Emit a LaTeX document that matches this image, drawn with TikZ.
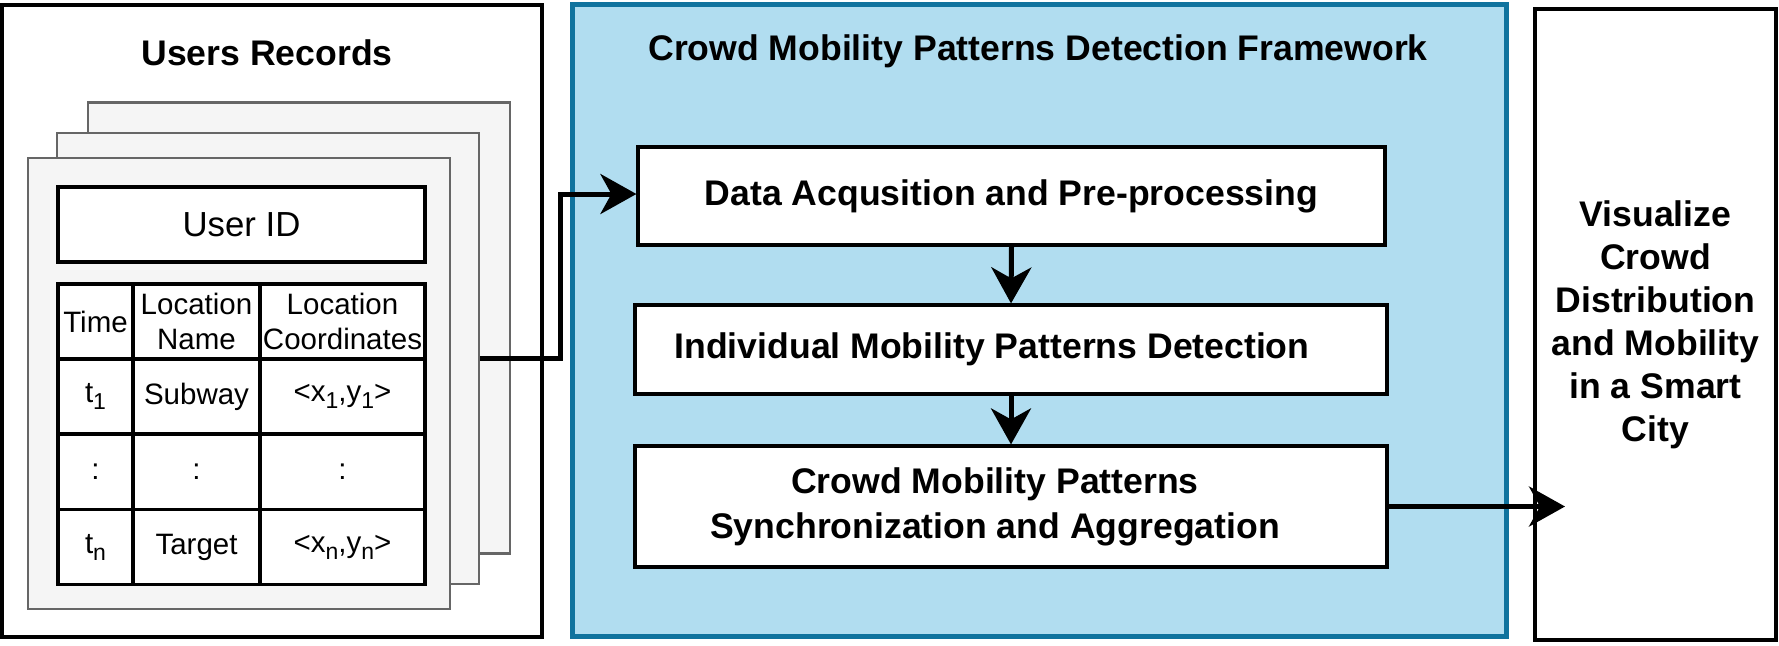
\documentclass[tikz,border=0pt]{standalone}
\usepackage{fontspec}
\setmainfont{Liberation Sans}
\usetikzlibrary{arrows.meta}
\definecolor{bluefill}{HTML}{B1DDF0}
\definecolor{bluedraw}{HTML}{10739E}
\definecolor{sheetfill}{HTML}{F5F5F5}
\definecolor{sheetdraw}{HTML}{666666}
\newcommand\lowsub[1]{\raisebox{-3.5pt}{\fontsize{11.5}{12}\selectfont #1}}
\begin{document}
\begin{tikzpicture}[x=0.5pt,y=-0.5pt,
  panel/.style={draw=black, line width=1.6pt, fill=white, inner sep=0pt},
  sheet/.style={draw=sheetdraw, fill=sheetfill, line width=1.2pt, minimum width=211pt, minimum height=225.5pt, inner sep=0pt},
  cell/.style={draw=black, line width=1.6pt, fill=white, inner sep=0pt, align=center, font=\fontsize{14.75}{17.5}\selectfont},
  stage/.style={draw=black, line width=1.6pt, fill=white, inner sep=0pt, align=center, font=\fontsize{17.8}{22.5}\selectfont\bfseries},
  heading/.style={inner sep=0pt, font=\fontsize{17.8}{22}\selectfont\bfseries},
  arr/.style={line width=2.5pt, -{Stealth[length=18pt,width=20pt,inset=5.5pt]}}]
\useasboundingbox (0,0) rectangle (1779,645);

% left panel
\node[panel, minimum width=270pt, minimum height=316pt] (records) at (272,321) {};
\node[heading] (recordstitle) at (267,53) {Users Records};
\node[sheet] (sheet3) at (299,328) {};
\node[sheet] (sheet2) at (268,358.5) {};
\node[sheet] (sheet1) at (239,383.5) {};
\node[cell, minimum width=183.5pt, minimum height=37.5pt, font=\fontsize{17.4}{20}\selectfont] (userid) at (241.5,224.5) {User ID};

% table
\node[cell, minimum width=37.5pt, minimum height=37.5pt] (c11) at (95.5,321.5) {Time};
\node[cell, minimum width=63.5pt, minimum height=37.5pt] (c12) at (196.5,321.5) {Location\\Name};
\node[cell, minimum width=82.5pt, minimum height=37.5pt] (c13) at (342.5,321.5) {Location\\Coordinates};
\node[cell, minimum width=37.5pt, minimum height=37.5pt] (c21) at (95.5,396.5) {t\lowsub{1}};
\node[cell, minimum width=63.5pt, minimum height=37.5pt] (c22) at (196.5,396.5) {Subway};
\node[cell, minimum width=82.5pt, minimum height=37.5pt] (c23) at (342.5,396.5) {<x\lowsub{1},y\lowsub{1}>};
\node[cell, minimum width=37.5pt, minimum height=37.5pt] (c31) at (95.5,472) {:};
\node[cell, minimum width=63.5pt, minimum height=37.5pt] (c32) at (196.5,472) {:};
\node[cell, minimum width=82.5pt, minimum height=37.5pt] (c33) at (342.5,472) {:};
\node[cell, minimum width=37.5pt, minimum height=37.5pt] (c41) at (95.5,547) {t\lowsub{n}};
\node[cell, minimum width=63.5pt, minimum height=37.5pt] (c42) at (196.5,547) {Target};
\node[cell, minimum width=82.5pt, minimum height=37.5pt] (c43) at (342.5,547) {<x\lowsub{n},y\lowsub{n}>};

% framework panel
\node[draw=bluedraw, fill=bluefill, line width=2.5pt, minimum width=467pt, minimum height=316pt, inner sep=0pt] (framework) at (1039,320) {};
\node[heading] (frameworktitle) at (1038,51) {Crowd Mobility Patterns Detection Framework};
\node[stage, minimum width=373.5pt, minimum height=49pt] (stage1) at (1011.5,196) {Data Acqusition and Pre-processing};
\node[stage, minimum width=376pt, minimum height=44.5pt] (stage2) at (1011,349.5) {Individual Mobility Patterns Detection\hspace*{19pt}};
\node[stage, minimum width=376pt, minimum height=60.5pt] (stage3) at (1011,506.5) {Crowd Mobility Patterns\hspace*{16pt}\\Synchronization and Aggregation\hspace*{16pt}};

% output panel
\node[panel, align=center, minimum width=120.5pt, minimum height=315.5pt, font=\fontsize{17.8}{21.5}\selectfont\bfseries] (output) at (1655.5,324.5) {Visualize\\Crowd\\Distribution\\and Mobility\\in a Smart\\City};

% connectors
\coordinate (bend) at (560,194);
\coordinate (tip) at (1565,506.5);
\draw[arr] (sheet2.east) -| (bend) -- (stage1.west |- bend);
\draw[arr] (stage1.south) -- (stage2.north);
\draw[arr] (stage2.south) -- (stage3.north);
\draw[arr] (stage3.east) -- (tip);
\end{tikzpicture}
\end{document}
